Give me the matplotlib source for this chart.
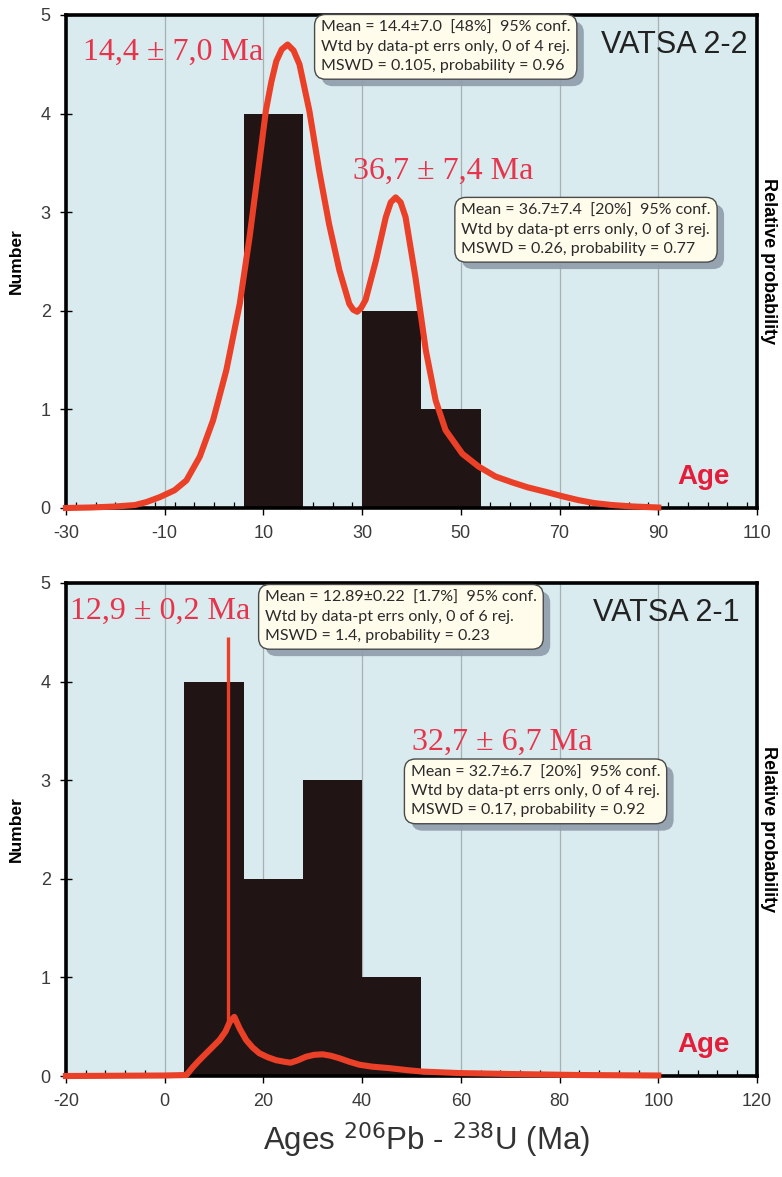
import numpy as np
import matplotlib
matplotlib.use("Agg")
import matplotlib.pyplot as plt
import matplotlib.patheffects as pe
from matplotlib.ticker import MultipleLocator

plt.rcParams["axes.unicode_minus"] = False

# --- VATSA 2-2 (upper panel) ---
top_bins = [6, 18, 30, 42]
top_counts = [4, 0, 2, 1]
top_bin_width = 12
top_curve_age = [-30, -25, -20, -16, -13.7, -11, -8, -5.6, -2.9, -0.2, 2.5, 5.2, 7.2,
                 9.2, 10.5, 11.6, 12.6, 13.7, 14.9, 16.1, 17.3, 19.3, 21.3, 23.3, 25.4,
                 27.4, 28.2, 29.0, 29.8, 30.7, 32.8, 34.8, 35.8, 36.8, 37.8, 38.8, 40.8,
                 42.9, 44.9, 46.9, 50.3, 53.6, 57.0, 60.4, 63.5, 67.1, 70.5, 73.8, 77.0,
                 80.6, 85.0, 90]
top_curve_prob = [0.0, 0.005, 0.015, 0.03, 0.06, 0.11, 0.18, 0.28, 0.52, 0.89, 1.40, 2.07,
                  2.75, 3.52, 4.03, 4.32, 4.53, 4.65, 4.70, 4.64, 4.50, 4.03, 3.42, 2.88,
                  2.41, 2.07, 2.01, 1.99, 2.03, 2.11, 2.51, 2.95, 3.10, 3.15, 3.10, 2.95,
                  2.34, 1.60, 1.09, 0.79, 0.55, 0.42, 0.32, 0.26, 0.21, 0.165, 0.12, 0.08,
                  0.05, 0.03, 0.015, 0.005]

# --- VATSA 2-1 (lower panel) ---
bot_bins = [4, 16, 28, 40]
bot_counts = [4, 2, 3, 1]
bot_bin_width = 12
bot_curve_age = [-20, 0, 4.4, 5.7, 7.0, 8.4, 9.8, 11.1, 12.3, 13.2, 14.1, 15.2, 16.5, 17.8,
                 19.2, 20.9, 22.6, 24.2, 25.5, 27.0, 28.6, 30.3, 32.0, 33.7, 35.4, 37.4,
                 39.4, 42.0, 45.5, 49.0, 52.2, 59.6, 70.4, 83.8, 100]
bot_curve_prob = [0.0, 0.005, 0.01, 0.09, 0.16, 0.23, 0.30, 0.365, 0.45, 0.55, 0.60, 0.48,
                  0.365, 0.29, 0.23, 0.19, 0.16, 0.145, 0.135, 0.16, 0.195, 0.215, 0.22,
                  0.205, 0.18, 0.145, 0.115, 0.095, 0.08, 0.06, 0.045, 0.03, 0.02, 0.01,
                  0.005]
bot_spike_age = 12.9
bot_spike_base = 0.5
bot_spike_top = 4.45

BG = "#d9ebee"
BAR = "#201414"
CURVE = "#ea4028"
RED_TXT = "#e6344c"
AGE_RED = "#e41d3a"
SANS = ["Liberation Sans", "DejaVu Sans"]
SERIF = ["Liberation Serif", "DejaVu Serif"]
TICK_FONT = ["Liberation Sans Narrow", "Liberation Sans", "DejaVu Sans"]
BOX_FONT = ["Lato", "DejaVu Sans"]

fig = plt.figure(figsize=(7.82, 11.77), dpi=100)
ax1 = fig.add_axes([0.0844, 0.5684, 0.8836, 0.4189])
ax2 = fig.add_axes([0.0844, 0.0858, 0.8836, 0.4189])


def style_axes(ax, xmin, xmax, step, minor):
    ax.set_facecolor(BG)
    ax.set_xlim(xmin, xmax)
    ax.set_ylim(0, 5)
    ax.xaxis.set_major_locator(MultipleLocator(step))
    ax.xaxis.set_minor_locator(MultipleLocator(minor))
    ax.yaxis.set_major_locator(MultipleLocator(1))
    ax.grid(axis="x", which="major", color="#a9b0b4", lw=0.9, zorder=0)
    ax.set_axisbelow(True)
    for s in ax.spines.values():
        s.set_linewidth(2.6)
        s.set_color("black")
    ax.tick_params(axis="x", which="major", direction="out", length=5, width=1,
                   labelsize=13, labelcolor="#3a3a3a", pad=7)
    ax.tick_params(axis="x", which="minor", direction="in", length=4, width=0.9)
    ax.tick_params(axis="y", which="major", direction="inout", length=8, width=1,
                   labelsize=13, labelcolor="#3a3a3a", pad=7)
    for lab in ax.get_xticklabels() + ax.get_yticklabels():
        lab.set_family(TICK_FONT)
    ax.set_ylabel("Number", fontsize=12.5, fontweight="bold", labelpad=12, family=SANS)
    ax.text(1.004, 0.5, "Relative probability", transform=ax.transAxes, rotation=-90,
            ha="left", va="center", fontsize=13, fontweight="bold", family=SANS)
    ax.text(0.923, 0.062, "Age", transform=ax.transAxes, ha="center", va="center",
            fontsize=20, fontweight="bold", color=AGE_RED, family=SANS)


def stat_box(ax, x, y, lines):
    t = ax.text(x, y, "\n".join(lines), transform=ax.transAxes, ha="left", va="top",
                fontsize=11.5, color="#2a2a2a", family=BOX_FONT, linespacing=1.45,
                zorder=6,
                bbox=dict(boxstyle="round,pad=0.4,rounding_size=0.7", fc="#fffcec",
                          ec="#4a4a4a", lw=1.0))
    t.get_bbox_patch().set_path_effects([
        pe.SimplePatchShadow(offset=(5, -5), shadow_rgbFace="#8f9cab", alpha=0.9),
        pe.Normal()])
    return t


# upper panel
style_axes(ax1, -30, 110, 20, 4)
ax1.set_xticks(np.arange(-30, 111, 20))
ax1.bar(top_bins, top_counts, width=top_bin_width, align="edge", color=BAR, zorder=2)
ax1.plot(top_curve_age, top_curve_prob, color=CURVE, lw=4.4, zorder=4,
         solid_joinstyle="round", clip_on=False)
ax1.text(0.0246, 0.925, "14,4 ± 7,0 Ma", transform=ax1.transAxes, ha="left", va="center",
         fontsize=23, color=RED_TXT, family=SERIF)
ax1.text(0.415, 0.682, "36,7 ± 7,4 Ma", transform=ax1.transAxes, ha="left", va="center",
         fontsize=23, color=RED_TXT, family=SERIF)
ax1.text(0.987, 0.939, "VATSA 2-2", transform=ax1.transAxes, ha="right", va="center",
         fontsize=22, color="#222222", family=SANS)
stat_box(ax1, 0.369, 0.988, ["Mean = 14.4±7.0  [48%]  95% conf.",
                             "Wtd by data-pt errs only, 0 of 4 rej.",
                             "MSWD = 0.105, probability = 0.96"])
stat_box(ax1, 0.572, 0.617, ["Mean = 36.7±7.4  [20%]  95% conf.",
                             "Wtd by data-pt errs only, 0 of 3 rej.",
                             "MSWD = 0.26, probability = 0.77"])

# lower panel
style_axes(ax2, -20, 120, 20, 4)
ax2.bar(bot_bins, bot_counts, width=bot_bin_width, align="edge", color=BAR, zorder=2)
ax2.plot(bot_curve_age, bot_curve_prob, color=CURVE, lw=4.4, zorder=4,
         solid_joinstyle="round", clip_on=False)
ax2.vlines(bot_spike_age, bot_spike_base, bot_spike_top, color=CURVE, lw=2.4, zorder=4)
ax2.text(0.006, 0.943, "12,9 ± 0,2 Ma", transform=ax2.transAxes, ha="left", va="center",
         fontsize=23, color=RED_TXT, family=SERIF)
ax2.text(0.501, 0.677, "32,7 ± 6,7 Ma", transform=ax2.transAxes, ha="left", va="center",
         fontsize=23, color=RED_TXT, family=SERIF)
ax2.text(0.975, 0.939, "VATSA 2-1", transform=ax2.transAxes, ha="right", va="center",
         fontsize=22, color="#222222", family=SANS)
stat_box(ax2, 0.288, 0.984, ["Mean = 12.89±0.22  [1.7%]  95% conf.",
                             "Wtd by data-pt errs only, 0 of 6 rej.",
                             "MSWD = 1.4, probability = 0.23"])
stat_box(ax2, 0.499, 0.630, ["Mean = 32.7±6.7  [20%]  95% conf.",
                             "Wtd by data-pt errs only, 0 of 4 rej.",
                             "MSWD = 0.17, probability = 0.92"])

fig.text(0.545, 1 - 1140 / 1177, r"Ages $^{206}$Pb - $^{238}$U (Ma)", ha="center",
         va="center", fontsize=22.5, color="#333333", family=TICK_FONT)

fig.savefig("out.png", dpi=100, facecolor="white")
